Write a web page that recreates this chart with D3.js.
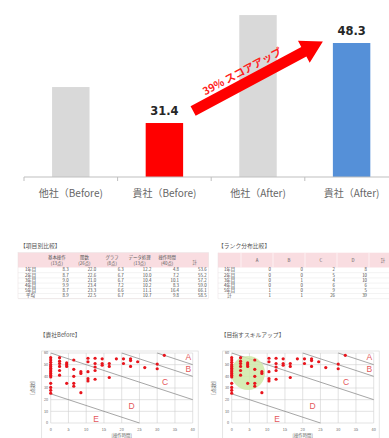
<!DOCTYPE html>
<html><head><meta charset="utf-8">
<script src="https://cdn.jsdelivr.net/npm/d3@7"></script>
<style>
html,body{margin:0;padding:0;background:#fff;}
svg{display:block;}
</style></head><body>
<svg id="c" width="389" height="438"></svg>
<script>
// ---- score comparison bars ----
const categories = ["他社（Before)", "貴社（Before)", "他社（After)", "貴社（After)"];
const scores = [39.0, 31.4, 54.2, 48.3];
const barColors = ["#d9d9d9", "#ff0000", "#d9d9d9", "#5590d8"];
const showValue = [false, true, false, true];
const arrowText = "39% スコアアップ";

// ---- per-item table ----
const itemTitle = "【項目別比較】";
const itemHeads = [["基本操作", "(13点)"], ["関数", "(26点)"], ["グラフ", "(8点)"], ["データ処理", "(13点)"], ["操作時間", "(40点)"], ["計", ""]];
const itemRowLabels = ["1年目", "2年目", "3年目", "4年目", "5年目", "平均"];
const itemValues = [
  [8.3, 22.0, 6.3, 12.2, 4.8, 53.6],
  [8.7, 22.6, 6.7, 10.0, 7.2, 55.2],
  [9.0, 21.0, 6.7, 10.4, 10.1, 57.2],
  [9.9, 23.4, 7.2, 10.2, 8.3, 59.0],
  [8.7, 23.3, 6.6, 11.1, 16.4, 66.1],
  [8.9, 22.5, 6.7, 10.7, 9.8, 58.5]
];

// ---- rank distribution table (the 計 column runs past the right edge) ----
const rankTitle = "【ランク分布比較】";
const rankHeads = ["A", "B", "C", "D", "計"];
const rankRowLabels = ["1年目", "2年目", "3年目", "4年目", "5年目", "計"];
const rankCounts = [
  [0, 0, 2, 8],
  [0, 0, 5, 10],
  [0, 1, 4, 10],
  [0, 0, 6, 6],
  [1, 0, 9, 5],
  [1, 1, 26, 39]
];

// ---- scatter plots: x = 操作時間 (40点), y = other items (60点) ----
const scatterTitles = ["【貴社Before】", "【目指すスキルアップ】"];
const scatterXTitle = "[操作時間]";
const scatterYTitle = "[点数]";
const xTicks = [0, 5, 10, 15, 20, 25, 30, 35, 40];
const yTicks = [0, 10, 20, 30, 40, 50, 60];
const studentX = [0,0,0,0,0,0,0,0,0,0,0,0,0,0,0, 2.5,2.5,2.5,2.5,2.5,2.5, 4.5,4.5,4.5,4.5,
  6.5,6.5,6.5,6.5,6.5, 8.5,8.5,8.5, 10.5,10.5,10.5,10.5,10.5, 12.5,12.5,12.5,12.5,12.5,
  14.5,14.5,14.5, 16.5,16.5,16.5, 18.5, 20.5,20.5, 22.5,22.5,22.5, 24.5, 26.5, 30,30, 32];
const studentY = [56,54,52,50,48.5,47,45.5,44,42.5,41,39.5,34,30.5,28,25.5, 56,53,51,48.5,45,41, 51.5,50,48.5,34,
  54,46,40,34,31.5, 44,42.5,26, 55.5,52.5,44,38,36, 55.5,51,48,45,37.5,
  55,51,49.5, 51,48.5,39, 55, 55,51, 55,53.5,48.5, 52.5, 47.5, 50.5,46.5, 58];
const rankNames = ["A", "B", "C", "D", "E"];
const rankBoundaries = [90, 80, 60, 25];          // total score limits between ranks
const rankLabelX = [38.8, 38.8, 32.2, 22.8, 12.8];
const rankLabelY = [56.8, 46.0, 34.9, 14.9, 3.1];
const targetCenter = [4.6, 42.8];                  // highlighted target zone

const svg = d3.select("#c");
const JP = "'Noto Sans CJK JP', 'Noto Sans', sans-serif";

// ================= bar chart =================
const x = d3.scaleBand().domain(categories).range([24, 398.4]).paddingInner(0.6).paddingOuter(0.3);
const y = d3.scaleLinear().domain([20, 60]).range([177, -12.4]);

svg.append("g").selectAll("rect").data(categories).join("rect")
  .attr("x", d => x(d)).attr("width", x.bandwidth())
  .attr("y", (d, i) => y(scores[i]))
  .attr("height", (d, i) => y(20) - y(scores[i]))
  .attr("fill", (d, i) => barColors[i]);

const xAxis = svg.append("g").attr("transform", `translate(0,${y(20)})`);
xAxis.append("line").attr("x1", 24).attr("x2", 398.4).attr("stroke", "#bfbfbf").attr("stroke-width", 1);
xAxis.selectAll("line.t").data(categories).join("line").attr("class", "t")
  .attr("x1", d => x(d) - x.step() * 0.3).attr("x2", d => x(d) - x.step() * 0.3)
  .attr("y1", 0).attr("y2", 4).attr("stroke", "#bfbfbf");
xAxis.selectAll("text").data(categories).join("text")
  .attr("x", d => x(d) + x.bandwidth() / 2).attr("y", 19.5)
  .attr("text-anchor", "middle").attr("font-family", JP).attr("font-size", 10)
  .attr("fill", "#666").text(d => d);

svg.append("g").selectAll("text").data(categories.filter((d, i) => showValue[i])).join("text")
  .attr("x", d => x(d) + x.bandwidth() / 2)
  .attr("y", d => y(scores[categories.indexOf(d)]) - 8)
  .attr("text-anchor", "middle").attr("font-family", "'DejaVu Sans', sans-serif")
  .attr("font-weight", "bold").attr("font-size", 11.5).attr("fill", "#262626")
  .text(d => scores[categories.indexOf(d)].toFixed(1));

// growth arrow from the red bar label to the blue bar label
const tail = [x(categories[1]) + x.bandwidth() + 10, y(scores[1]) - 12];
const tip = [x(categories[3]) - 10, y(scores[3]) - 1.5];
const L = Math.hypot(tip[0] - tail[0], tip[1] - tail[1]);
const ang = Math.atan2(tip[1] - tail[1], tip[0] - tail[0]) * 180 / Math.PI;
const sw = 5.4, hl = 21.6, hw = 12.4;
const ag = svg.append("g").attr("transform", `translate(${tail[0]},${tail[1]}) rotate(${ang})`);
ag.append("polygon")
  .attr("points", [[0, -sw], [L - hl, -sw], [L - hl, -hw], [L, 0], [L - hl, hw], [L - hl, sw], [0, sw]].map(p => p.join(",")).join(" "))
  .attr("fill", "#ff0000");
ag.append("text").attr("x", 62).attr("y", -8)
  .attr("text-anchor", "middle").attr("font-family", JP).attr("font-weight", "bold")
  .attr("font-size", 10.5).attr("fill", "#ff2020").text(arrowText);

// ================= tables =================
const tFont = 4.4;
function title(tx, ty, t) {
  svg.append("text").attr("x", tx).attr("y", ty).attr("font-family", JP)
    .attr("font-size", 5.8).attr("fill", "#555").text(t);
}
const rowTop = 267.5, rowH = 5.2, headTop = 252.7;

// per-item table
title(20, 248, itemTitle);
{
  const left = 18, labelW = 25, colW = 27.6;
  const cx = d3.scaleBand().domain(d3.range(itemHeads.length)).range([left + labelW, left + labelW + colW * itemHeads.length]);
  const g = svg.append("g");
  g.append("rect").attr("x", left).attr("y", headTop).attr("width", labelW + colW * itemHeads.length)
    .attr("height", rowTop - headTop).attr("fill", "#f9dde1");
  itemRowLabels.forEach((r, i) => {
    g.append("line").attr("x1", left).attr("x2", left + labelW + colW * itemHeads.length)
      .attr("y1", rowTop + rowH * (i + 1)).attr("y2", rowTop + rowH * (i + 1))
      .attr("stroke", "#e6e6e6").attr("stroke-width", 0.5);
    g.append("text").attr("x", left + labelW / 2).attr("y", rowTop + rowH * i + 3.8)
      .attr("text-anchor", "middle").attr("font-family", JP).attr("font-size", tFont).attr("fill", "#444").text(r);
    itemValues[i].forEach((v, j) => {
      g.append("text").attr("x", cx(j) + colW - 2).attr("y", rowTop + rowH * i + 3.8)
        .attr("text-anchor", "end").attr("font-family", JP).attr("font-size", tFont).attr("fill", "#444").text(v.toFixed(1));
    });
  });
  itemHeads.forEach((h, j) => {
    g.append("text").attr("x", cx(j) + colW / 2).attr("y", h[1] ? 258.6 : 264)
      .attr("text-anchor", "middle").attr("font-family", JP).attr("font-size", tFont).attr("fill", "#555").text(h[0]);
    if (h[1]) g.append("text").attr("x", cx(j) + colW / 2).attr("y", 265.3)
      .attr("text-anchor", "middle").attr("font-family", JP).attr("font-size", tFont).attr("fill", "#555").text(h[1]);
  });
  g.append("rect").attr("x", left).attr("y", headTop).attr("width", labelW + colW * itemHeads.length)
    .attr("height", rowTop + rowH * itemRowLabels.length - headTop).attr("fill", "none").attr("stroke", "#eadfe0").attr("stroke-width", 0.5);
}

// rank distribution table
title(218, 248, rankTitle);
{
  const left = 218, labelW = 23, colW = 32;
  const cx = d3.scaleBand().domain(rankHeads).range([left + labelW, left + labelW + colW * rankHeads.length]);
  const g = svg.append("g");
  g.append("rect").attr("x", left).attr("y", headTop).attr("width", labelW + colW * rankHeads.length)
    .attr("height", rowTop - headTop).attr("fill", "#f9dde1");
  rankHeads.forEach(h => {
    g.append("line").attr("x1", cx(h)).attr("x2", cx(h)).attr("y1", headTop).attr("y2", rowTop)
      .attr("stroke", "#fff").attr("stroke-width", 0.6);
    g.append("text").attr("x", cx(h) + colW / 2 - (h === "計" ? 2 : 0)).attr("y", 261.5)
      .attr("text-anchor", "middle").attr("font-family", JP).attr("font-size", tFont).attr("fill", "#555").text(h);
  });
  rankRowLabels.forEach((r, i) => {
    g.append("line").attr("x1", left).attr("x2", left + labelW + colW * rankHeads.length)
      .attr("y1", rowTop + rowH * (i + 1)).attr("y2", rowTop + rowH * (i + 1))
      .attr("stroke", "#e6e6e6").attr("stroke-width", 0.5);
    g.append("text").attr("x", left + labelW / 2).attr("y", rowTop + rowH * i + 3.8)
      .attr("text-anchor", "middle").attr("font-family", JP).attr("font-size", tFont).attr("fill", "#444").text(r);
    rankCounts[i].forEach((v, j) => {
      g.append("text").attr("x", cx(rankHeads[j]) + colW - 2).attr("y", rowTop + rowH * i + 3.8)
        .attr("text-anchor", "end").attr("font-family", JP).attr("font-size", tFont).attr("fill", "#444").text(v);
    });
  });
  g.append("line").attr("x1", left).attr("x2", left).attr("y1", headTop).attr("y2", rowTop + rowH * 6)
    .attr("stroke", "#eadfe0").attr("stroke-width", 0.5);
}

// ================= scatter plots =================
function scatter(ox, idx) {
  const sx = d3.scaleLinear().domain([0, 40]).range([ox + 9, ox + 151]);
  const sy = d3.scaleLinear().domain([0, 60]).range([423, 353]);
  const g = svg.append("g");
  svg.append("text").attr("x", ox - 2).attr("y", 337).attr("font-family", JP)
    .attr("font-size", 5.8).attr("fill", "#555").text(scatterTitles[idx]);
  g.append("rect").attr("x", ox).attr("y", 351).attr("width", 156.5).attr("height", 100)
    .attr("fill", "#fff").attr("stroke", "#d9d9d9").attr("stroke-width", 0.7);
  // grid
  g.selectAll("line.h").data(yTicks).join("line").attr("class", "h")
    .attr("x1", sx(0)).attr("x2", sx(40)).attr("y1", d => sy(d)).attr("y2", d => sy(d))
    .attr("stroke", "#d0d0d0").attr("stroke-width", 0.6);
  g.selectAll("line.v").data(xTicks).join("line").attr("class", "v")
    .attr("x1", d => sx(d)).attr("x2", d => sx(d)).attr("y1", sy(0)).attr("y2", sy(60))
    .attr("stroke", "#d0d0d0").attr("stroke-width", 0.6);
  // tick labels
  g.selectAll("text.yl").data(yTicks).join("text").attr("class", "yl")
    .attr("x", sx(0) - 2.5).attr("y", d => sy(d) + 1.3).attr("text-anchor", "end")
    .attr("font-family", JP).attr("font-size", 3.8).attr("fill", "#666").text(d => d);
  g.selectAll("text.xl").data(xTicks).join("text").attr("class", "xl")
    .attr("x", d => sx(d)).attr("y", 431).attr("text-anchor", "middle")
    .attr("font-family", JP).attr("font-size", 3.8).attr("fill", "#666").text(d => d);
  g.append("text").attr("transform", `translate(${ox - 8},388) rotate(-90)`).attr("text-anchor", "middle")
    .attr("font-family", JP).attr("font-size", 5).attr("fill", "#666").text(scatterYTitle);
  g.append("text").attr("x", (sx(0) + sx(40)) / 2).attr("y", 436.6).attr("text-anchor", "middle")
    .attr("font-family", JP).attr("font-size", 4.4).attr("fill", "#666").text(scatterXTitle);
  // rank boundaries x + y = T, clipped to the plot
  rankBoundaries.forEach(T => {
    const x1 = Math.max(0, T - 60), x2 = Math.min(40, T);
    g.append("line").attr("x1", sx(x1)).attr("y1", sy(T - x1)).attr("x2", sx(x2)).attr("y2", sy(T - x2))
      .attr("stroke", "#7f7f7f").attr("stroke-width", 0.7);
  });
  if (idx === 1) {
    g.append("circle").attr("cx", sx(targetCenter[0])).attr("cy", sy(targetCenter[1])).attr("r", 17)
      .attr("fill", "#cfe9a8").attr("opacity", 0.85);
  }
  g.selectAll("circle.p").data(studentX).join("circle").attr("class", "p")
    .attr("cx", d => sx(d)).attr("cy", (d, i) => sy(studentY[i])).attr("r", 1.6).attr("fill", "#e8141c");
  g.selectAll("text.r").data(rankNames).join("text").attr("class", "r")
    .attr("x", (d, i) => sx(rankLabelX[i])).attr("y", (d, i) => sy(rankLabelY[i]) + 3)
    .attr("text-anchor", "middle").attr("font-family", "'Liberation Sans', Arial, sans-serif")
    .attr("font-size", 8.5).attr("fill", "#e4575b").text(d => d);
}
scatter(41.7, 0);
scatter(222.7, 1);
</script>
</body></html>
